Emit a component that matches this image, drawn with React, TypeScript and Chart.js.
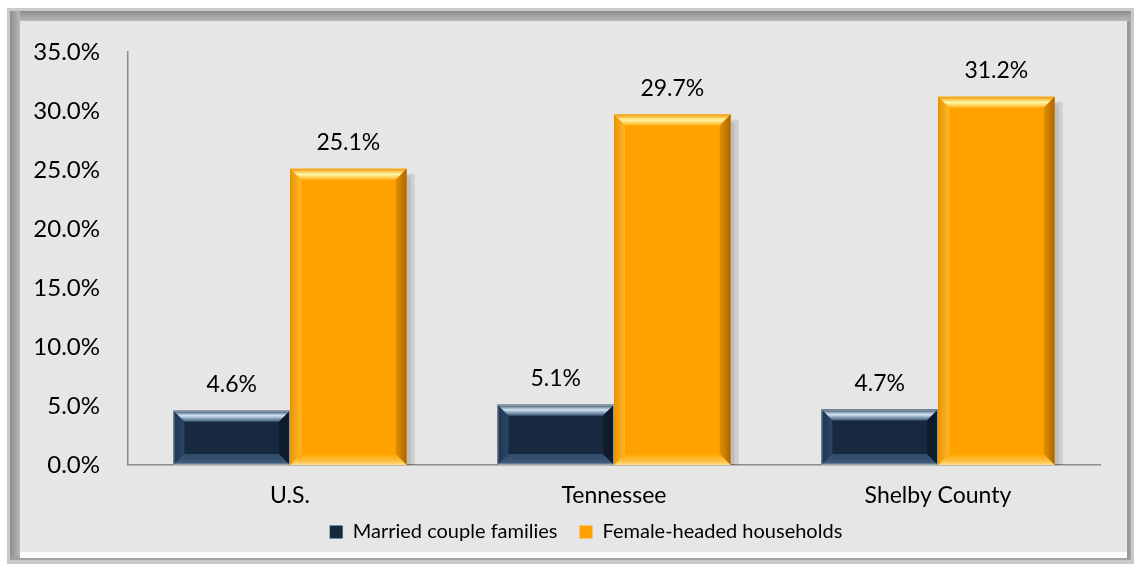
import React, { useEffect, useRef } from "react";
import { Chart, registerables } from "chart.js";

Chart.register(...registerables);

const categories = ["U.S.", "Tennessee", "Shelby County"];
const seriesNames = ["Married couple families", "Female-headed households"];
const marriedValues = [4.6, 5.1, 4.7];
const femaleValues = [25.1, 29.7, 31.2];
const yTicks = [0, 5, 10, 15, 20, 25, 30, 35];

const FONT = "Lato, 'Open Sans', sans-serif";
const DARK = "#17293f";
const ORANGE = "#ffa200";

const framePlugin = {
  id: "frame",
  beforeDraw(chart: any) {
    const ctx = chart.ctx;
    const W = chart.width;
    const H = chart.height;
    ctx.save();
    ctx.fillStyle = "#ffffff";
    ctx.fillRect(0, 0, W, H);
    ctx.fillStyle = "#cacaca";
    ctx.fillRect(7, 8, W - 9, H - 4 - 8);
    ctx.fillStyle = "#a3a3a3";
    ctx.fillRect(10, 11, W - 15, H - 18 - 1);
    let g = ctx.createLinearGradient(0, 11, 0, 21);
    g.addColorStop(0, "#8e8e8e");
    g.addColorStop(1, "#b8b8b8");
    ctx.fillStyle = g;
    ctx.fillRect(10, 11, W - 15, 10);
    g = ctx.createLinearGradient(10, 0, 20, 0);
    g.addColorStop(0, "#8e8e8e");
    g.addColorStop(1, "#b8b8b8");
    ctx.fillStyle = g;
    ctx.fillRect(10, 11, 10, H - 22);
    ctx.fillStyle = "#fbfbfb";
    ctx.fillRect(20, 552, W - 26, 6);
    ctx.fillStyle = "#999999";
    ctx.fillRect(W - 9, 21, 3, 537);
    ctx.fillStyle = "#e6e6e6";
    ctx.fillRect(20, 21, W - 29, 531);
    ctx.restore();
  },
};

const layoutTweakPlugin = {
  id: "layoutTweak",
  afterLayout(chart: any) {
    const lg = chart.legend;
    if (lg) {
      lg.left += 26;
      lg.right += 26;
    }
    const xs = chart.scales.x;
    if (xs) xs.bottom = xs.top + 50;
  },
};

function poly(ctx: any, pts: number[][], fill: any) {
  ctx.beginPath();
  ctx.moveTo(pts[0][0], pts[0][1]);
  for (let i = 1; i < pts.length; i++) ctx.lineTo(pts[i][0], pts[i][1]);
  ctx.closePath();
  ctx.fillStyle = fill;
  ctx.fill();
}

const bevelPlugin = {
  id: "bevel",
  beforeDatasetsDraw(chart: any) {
    const ctx = chart.ctx;
    ctx.save();
    chart.data.datasets.forEach((ds: any, di: number) => {
      const meta = chart.getDatasetMeta(di);
      meta.data.forEach((bar: any) => {
        const { x, y, base, width } = bar.getProps(["x", "y", "base", "width"], true);
        const r = x + width / 2;
        ctx.fillStyle = "rgba(0,0,0,0.10)";
        ctx.fillRect(r, y + 5, 8, base - y - 5);
        ctx.fillStyle = "rgba(0,0,0,0.08)";
        ctx.fillRect(r, y + 8, 4, base - y - 8);
      });
    });
    ctx.restore();
  },
  afterDatasetsDraw(chart: any) {
    const ctx = chart.ctx;
    ctx.save();
    chart.data.datasets.forEach((ds: any, di: number) => {
      const meta = chart.getDatasetMeta(di);
      meta.data.forEach((bar: any, idx: number) => {
        const { x, y, base, width } = bar.getProps(["x", "y", "base", "width"], true);
        const l = x - width / 2;
        const r = x + width / 2;
        const t = y;
        const bt = base;
        const b = Math.min(11, (bt - t) / 3);
        if (di === 0) {
          const gt = ctx.createLinearGradient(0, t, 0, t + b);
          gt.addColorStop(0, "#2d4763");
          gt.addColorStop(0.45, "#d2e4f4");
          gt.addColorStop(1, "#3a5876");
          poly(ctx, [[l, t], [r, t], [r - b, t + b], [l + b, t + b]], gt);
          const gl = ctx.createLinearGradient(l, 0, l + b, 0);
          gl.addColorStop(0, "#1d3450");
          gl.addColorStop(1, "#2b4766");
          poly(ctx, [[l, t], [l + b, t + b], [l + b, bt - b], [l, bt]], gl);
          poly(ctx, [[r, t], [r, bt], [r - b, bt - b], [r - b, t + b]], "#0e1b2b");
          const gb = ctx.createLinearGradient(0, bt - b, 0, bt);
          gb.addColorStop(0, "#2f4968");
          gb.addColorStop(0.8, "#3f5a78");
          gb.addColorStop(1, "#b8c2cc");
          poly(ctx, [[l, bt], [r, bt], [r - b, bt - b], [l + b, bt - b]], gb);
          ctx.strokeStyle = "rgba(160,170,180,0.9)";
          ctx.lineWidth = 1;
          ctx.strokeRect(l + 0.5, t + 0.5, r - l - 1, bt - t - 1);
        } else {
          const gt = ctx.createLinearGradient(0, t, 0, t + b);
          gt.addColorStop(0, "#f29a00");
          gt.addColorStop(0.5, "#fff7a8");
          gt.addColorStop(1, "#ffb21a");
          poly(ctx, [[l, t], [r, t], [r - b, t + b], [l + b, t + b]], gt);
          const gl = ctx.createLinearGradient(l, 0, l + b, 0);
          gl.addColorStop(0, "#e89400");
          gl.addColorStop(1, "#ffb52a");
          poly(ctx, [[l, t], [l + b, t + b], [l + b, bt - b], [l, bt]], gl);
          const gr = ctx.createLinearGradient(r - b, 0, r, 0);
          gr.addColorStop(0, "#e59000");
          gr.addColorStop(1, "#a86600");
          poly(ctx, [[r, t], [r, bt], [r - b, bt - b], [r - b, t + b]], gr);
          const gb = ctx.createLinearGradient(0, bt - b, 0, bt);
          gb.addColorStop(0, "#ffa600");
          gb.addColorStop(0.7, "#ffc24a");
          gb.addColorStop(1, "#ffe08a");
          poly(ctx, [[l, bt], [r, bt], [r - b, bt - b], [l + b, bt - b]], gb);
        }
        const v = ds.data[idx];
        ctx.fillStyle = "#000000";
        ctx.font = `23px ${FONT}`;
        ctx.textAlign = "center";
        ctx.textBaseline = "middle";
        ctx.fillText(`${Number(v).toFixed(1)}%`, x, t - 26);
      });
    });
    ctx.restore();
  },
};

export default function App() {
  const ref = useRef<HTMLCanvasElement>(null);
  useEffect(() => {
    if (!ref.current) return;
    const chart = new Chart(ref.current, {
      type: "bar",
      data: {
        labels: categories,
        datasets: [
          { label: seriesNames[0], data: marriedValues, backgroundColor: DARK, borderWidth: 0 },
          { label: seriesNames[1], data: femaleValues, backgroundColor: ORANGE, borderWidth: 0 },
        ],
      },
      plugins: [framePlugin, bevelPlugin, layoutTweakPlugin],
      options: {
        responsive: false,
        animation: false,
        devicePixelRatio: 1,
        layout: { padding: { left: 20, right: 36, top: 52, bottom: 16 } },
        datasets: { bar: { categoryPercentage: 0.72, barPercentage: 1 } },
        plugins: {
          tooltip: { enabled: false },
          legend: {
            position: "bottom",
            labels: {
              font: { family: FONT, size: 20 },
              color: "#000000",
              boxWidth: 13,
              boxHeight: 13,
              padding: 22,
            },
          },
        },
        scales: {
          x: {
            grid: { display: false, drawTicks: false },
            border: { display: true, color: "#8c8c8c", width: 1.5 },
            ticks: { font: { family: FONT, size: 23 }, color: "#000000", padding: 17 },
            afterFit(scale: any) {
              scale.height = 35;
            },
          },
          y: {
            min: 0,
            max: 35,
            grid: { display: false, drawTicks: false },
            border: { display: true, color: "#8c8c8c", width: 1.5 },
            afterBuildTicks(scale: any) {
              scale.ticks = yTicks.map((v) => ({ value: v }));
            },
            afterFit(scale: any) {
              scale.width = 108;
            },
            ticks: {
              font: { family: FONT, size: 24 },
              color: "#000000",
              padding: 28,
              callback: (v: any) => `${Number(v).toFixed(1)}%`,
            },
          },
        },
      },
    });
    return () => chart.destroy();
  }, []);
  return (
    <div style={{ position: "fixed", left: 0, top: 0, width: 1136, height: 568 }}>
      <canvas ref={ref} width={1136} height={568} style={{ width: 1136, height: 568 }} />
    </div>
  );
}
